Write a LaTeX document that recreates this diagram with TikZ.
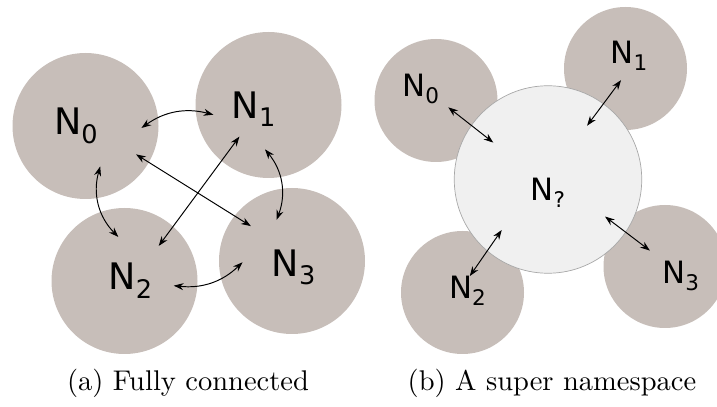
\documentclass[tikz,border=0pt]{standalone}
\usepackage{fontspec}
\usetikzlibrary{arrows.meta,calc}
\newfontfamily\labfont{DejaVu Sans}
\definecolor{nsfill}{RGB}{199,190,185}
\definecolor{hubfill}{RGB}{240,240,240}
\definecolor{hubline}{RGB}{168,168,168}
\makeatletter
\newcommand{\nsub}[1]{\raisebox{-0.22em}{\fontsize{\fpeval{0.7*\f@size}}{1}\selectfont#1}}
\makeatother

\begin{document}
\begin{tikzpicture}[
  ns/.style={circle,fill=nsfill,inner sep=0pt,minimum size=2.92cm},
  sns/.style={circle,fill=nsfill,inner sep=0pt,minimum size=2.46cm},
  hub/.style={circle,fill=hubfill,draw=hubline,line width=0.4pt,inner sep=0pt,minimum size=3.75cm},
  biglab/.style={anchor=base west,inner sep=0pt,font=\labfont\fontsize{20.8}{24}\selectfont},
  smalllab/.style={anchor=base west,inner sep=0pt,font=\labfont\fontsize{17.5}{20}\selectfont},
  conn/.style={{Stealth[length=5.5pt,width=4pt]}-{Stealth[length=5.5pt,width=4pt]},line width=0.55pt},
  capt/.style={anchor=base,scale=1.622}]
\useasboundingbox (0,0) rectangle (14.34,8.14);

\node[ns] (n0) at (1.71,5.62) {};
\node[ns] (n1) at (5.37,6.04) {};
\node[ns] (n2) at (2.49,2.52) {};
\node[ns] (n3) at (5.84,2.92) {};
\node[biglab] (l0) at (1.074,5.44) {N\nsub{0}};
\node[biglab] (l1) at (4.628,5.774) {N\nsub{1}};
\node[biglab] (l2) at (2.162,2.34) {N\nsub{2}};
\node[biglab] (l3) at (5.428,2.606) {N\nsub{3}};
\draw[conn] ($(n0)+(-2:1.12)$) to[bend left=25] ($(n1)+(190:1.12)$);
\draw[conn] ($(n0)+(-70:0.86)$) to[bend right=30] ($(n2)+(98:0.89)$);
\draw[conn] ($(n1)+(-94.5:0.89)$) to[bend left=30] ($(n3)+(110.5:0.88)$);
\draw[conn] ($(n2)+(-5.4:0.99)$) to[bend right=25] ($(n3)+(181.5:0.99)$);
\draw[conn] ($(n0)+(-29.3:1.16)$) -- ($(n3)+(139.7:1.08)$);
\draw[conn] ($(n1)+(227.4:0.86)$) -- ($(n2)+(45.7:0.98)$);

\node[sns] (m0) at (8.72,6.13) {};
\node[sns] (m1) at (12.51,6.77) {};
\node[sns] (m2) at (9.25,2.29) {};
\node[sns] (m3) at (13.30,2.81) {};
\node[hub] (hub) at (10.96,4.55) {};
\node[smalllab] (k0) at (8.04,6.206) {N\nsub{0}};
\node[smalllab] (k1) at (12.206,6.874) {N\nsub{1}};
\node[smalllab] (k2) at (8.974,2.174) {N\nsub{2}};
\node[smalllab] (k3) at (13.24,2.474) {N\nsub{3}};
\node[smalllab] (kq) at (10.606,4.12) {N\nsub{?}};
\draw[conn] ($(m0)+(-29:0.28)$) -- ($(hub)+(146:1.32)$);
\draw[conn] ($(m1)+(-111:0.25)$) -- ($(hub)+(54:1.33)$);
\draw[conn] ($(m2)+(66:0.36)$) -- ($(hub)+(-132.5:1.37)$);
\draw[conn] ($(m3)+(133.5:0.44)$) -- ($(hub)+(-33:1.36)$);

\node[capt] (ca) at (3.76,0.32) {(a) Fully connected};
\node[capt] (cb) at (11.04,0.32) {(b) A super namespace};
\end{tikzpicture}
\end{document}
